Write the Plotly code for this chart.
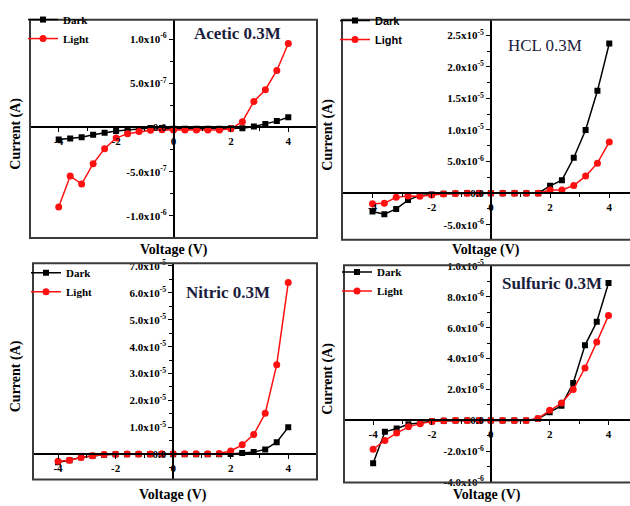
import plotly.graph_objects as go

W, H = 630, 506

voltage = [-4.0, -3.6, -3.2, -2.8, -2.4, -2.0, -1.6, -1.2, -0.8, -0.4, 0.0,
           0.4, 0.8, 1.2, 1.6, 2.0, 2.4, 2.8, 3.2, 3.6, 4.0]

acetic_dark = [-1.37e-7, -1.26e-7, -1.1e-7, -0.83e-7, -0.6e-7, -0.4e-7, -0.3e-7, -0.2e-7,
               -0.05e-7, -0.05e-7, -0.15e-7, -0.15e-7, -0.15e-7, -0.15e-7, -0.15e-7,
               -0.1e-7, -0.1e-7, 0.1e-7, 0.4e-7, 0.72e-7, 1.15e-7]
acetic_light = [-9.0e-7, -5.5e-7, -6.4e-7, -4.1e-7, -2.4e-7, -1.2e-7, -0.7e-7, -0.47e-7,
                -0.32e-7, -0.25e-7, -0.28e-7, -0.28e-7, -0.28e-7, -0.28e-7, -0.28e-7,
                -0.15e-7, 0.65e-7, 2.94e-7, 4.27e-7, 6.45e-7, 9.5e-7]

hcl_dark = [-2.9e-6, -3.35e-6, -2.5e-6, -1.1e-6, -0.36e-6, -0.2e-6, -0.1e-6, -0.05e-6,
            0.0, 0.0, 0.0, 0.0, 0.0, 0.0, 0.0, 1.15e-6, 2.06e-6, 5.6e-6, 1.0e-5, 1.62e-5, 2.37e-5]
hcl_light = [-1.7e-6, -1.6e-6, -0.67e-6, -0.46e-6, -0.5e-6, -0.3e-6, -0.15e-6, -0.05e-6,
             0.0, 0.0, 0.0, 0.0, 0.0, 0.0, 0.0, 0.5e-6, 0.5e-6, 1.2e-6, 2.7e-6, 4.75e-6, 8.1e-6]

nitric_dark = [-3.0e-6, -2.2e-6, -1.1e-6, -0.6e-6, -0.2e-6, 0.0, 0.0, 0.0, 0.0, 0.0, 0.0,
               0.0, 0.0, 0.0, 0.0, 0.1e-6, 0.5e-6, 0.85e-6, 1.8e-6, 4.5e-6, 1.0e-5]
nitric_light = [-2.6e-6, -2.2e-6, -1.2e-6, -0.6e-6, -0.1e-6, 0.0, 0.05e-6, 0.1e-6, 0.1e-6,
                0.15e-6, 0.2e-6, 0.2e-6, 0.2e-6, 0.2e-6, 0.3e-6, 1.2e-6, 3.5e-6, 7.3e-6,
                1.52e-5, 3.33e-5, 6.38e-5]

sulfuric_dark = [-2.78e-6, -0.74e-6, -0.53e-6, -0.25e-6, -0.15e-6, -0.06e-6, -0.02e-6, 0.0,
                 0.0, 0.0, 0.0, 0.0, 0.0, 0.0, 0.1e-6, 0.53e-6, 0.95e-6, 2.42e-6, 4.86e-6,
                 6.38e-6, 8.9e-6]
sulfuric_light = [-1.87e-6, -1.3e-6, -0.82e-6, -0.42e-6, -0.21e-6, -0.08e-6, -0.02e-6, 0.0,
                  0.0, 0.0, 0.0, 0.0, 0.0, 0.0, 0.13e-6, 0.65e-6, 1.12e-6, 2.0e-6, 3.39e-6,
                  5.07e-6, 6.8e-6]

x_ticks = [-4, -2, 0, 2, 4]
x_ticktext = ["-4", "-2", "0", "2", "4"]
x_minor = [-3, -1, 1, 3]

acetic_yticks = [-1e-6, -5e-7, 0, 5e-7, 1e-6]
acetic_ytext = ["-1.0x10<sup>-6</sup>", "-5.0x10<sup>-7</sup>", "0.0",
                "5.0x10<sup>-7</sup>", "1.0x10<sup>-6</sup>"]
acetic_yminor = [-7.5e-7, -2.5e-7, 2.5e-7, 7.5e-7]

hcl_yticks = [-5e-6, 0, 5e-6, 1e-5, 1.5e-5, 2e-5, 2.5e-5]
hcl_ytext = ["-5.0x10<sup>-6</sup>", "0.0", "5.0x10<sup>-6</sup>", "1.0x10<sup>-5</sup>",
             "1.5x10<sup>-5</sup>", "2.0x10<sup>-5</sup>", "2.5x10<sup>-5</sup>"]
hcl_yminor = [-2.5e-6, 2.5e-6, 7.5e-6, 1.25e-5, 1.75e-5, 2.25e-5]

nitric_yticks = [-1e-5, 0, 1e-5, 2e-5, 3e-5, 4e-5, 5e-5, 6e-5, 7e-5]
nitric_ytext = ["-1.0x10<sup>-5</sup>", "0.0", "1.0x10<sup>-5</sup>", "2.0x10<sup>-5</sup>",
                "3.0x10<sup>-5</sup>", "4.0x10<sup>-5</sup>", "5.0x10<sup>-5</sup>",
                "6.0x10<sup>-5</sup>", "7.0x10<sup>-5</sup>"]
nitric_yminor = [-5e-6, 5e-6, 1.5e-5, 2.5e-5, 3.5e-5, 4.5e-5, 5.5e-5, 6.5e-5]

sulfuric_yticks = [-4e-6, -2e-6, 0, 2e-6, 4e-6, 6e-6, 8e-6, 1e-5]
sulfuric_ytext = ["-4.0x10<sup>-6</sup>", "-2.0x10<sup>-6</sup>", "0.0", "2.0x10<sup>-6</sup>",
                  "4.0x10<sup>-6</sup>", "6.0x10<sup>-6</sup>", "8.0x10<sup>-6</sup>",
                  "1.0x10<sup>-5</sup>"]
sulfuric_yminor = [-3e-6, -1e-6, 1e-6, 3e-6, 5e-6, 7e-6, 9e-6]

titles = ["Acetic 0.3M", "HCL 0.3M", "Nitric 0.3M", "Sulfuric 0.3M"]

SERIF = "Liberation Serif"
SANS = "Liberation Sans"
TITLE_COLOR = "#1b1d3d"

# panel layout in pixels: (left, right, top, bottom), x range, y range
panels = [
    dict(px=(30, 317, 13, 237), xr=(-5.0, 5.0), yr=(-1.25e-6, 1.22e-6),
         dark=acetic_dark, light=acetic_light, yt=acetic_yticks, ytt=acetic_ytext,
         ym=acetic_yminor, title=titles[0], tpos=(237, 27), tbold=True,
         leg=(23, -2), legfont=SERIF),
    dict(px=(342, 630, 13, 239), xr=(-5.03, 4.70), yr=(-7.4e-6, 2.747e-5),
         dark=hcl_dark, light=hcl_light, yt=hcl_yticks, ytt=hcl_ytext,
         ym=hcl_yminor, title=titles[1], tpos=(545, 40), tbold=False,
         leg=(335, -1), legfont=SANS),
    dict(px=(33, 317, 263, 485), xr=(-4.87, 5.0), yr=(-0.94e-5, 7.1e-5),
         dark=nitric_dark, light=nitric_light, yt=nitric_yticks, ytt=nitric_ytext,
         ym=nitric_yminor, title=titles[2], tpos=(228, 293), tbold=True,
         leg=(26, 258), legfont=SERIF),
    dict(px=(344, 630, 265, 488), xr=(-4.99, 4.73), yr=(-4.02e-6, 1.005e-5),
         dark=sulfuric_dark, light=sulfuric_light, yt=sulfuric_yticks, ytt=sulfuric_ytext,
         ym=sulfuric_yminor, title=titles[3], tpos=(552, 284), tbold=True,
         leg=(337, 257), legfont=SERIF),
]

fig = go.Figure()
layout = dict(
    width=W, height=H, margin=dict(l=0, r=0, t=0, b=0),
    paper_bgcolor="white", plot_bgcolor="white", showlegend=True,
    shapes=[], annotations=[],
)

tickfont = dict(family=SERIF, size=11, color="black", weight="bold")

for i, p in enumerate(panels):
    n = "" if i == 0 else str(i + 1)
    xa, ya = "x" + n, "y" + n
    legname = "legend" + n
    l, r, t, b = p["px"]
    xd = [l / W, r / W]
    yd = [1 - b / H, 1 - t / H]
    x0, x1 = p["xr"]
    y0, y1 = p["yr"]
    # where the zero lines sit (paper fractions)
    ypos_axis = xd[0] + (0 - x0) / (x1 - x0) * (xd[1] - xd[0])
    xpos_axis = yd[0] + (0 - y0) / (y1 - y0) * (yd[1] - yd[0])

    fig.add_trace(go.Scatter(
        x=voltage, y=p["dark"], xaxis=xa, yaxis=ya, name="<b>Dark</b>", legend=legname,
        mode="lines+markers", line=dict(color="black", width=1.5),
        marker=dict(symbol="square", size=6, color="black")))
    fig.add_trace(go.Scatter(
        x=voltage, y=p["light"], xaxis=xa, yaxis=ya, name="<b>Light</b>", legend=legname,
        mode="lines+markers", line=dict(color="#ff1010", width=1.5),
        marker=dict(symbol="circle", size=7, color="#ff1010")))

    layout["xaxis" + n] = dict(
        domain=xd, range=[x0, x1], anchor="free", position=xpos_axis,
        showline=True, linecolor="black", linewidth=1.5, showgrid=False, zeroline=False,
        tickmode="array", tickvals=x_ticks, ticktext=x_ticktext,
        ticks="outside", ticklen=4, tickwidth=1, tickcolor="black", tickfont=tickfont,
        minor=dict(tickmode="array", tickvals=x_minor, ticks="outside", ticklen=3,
                   tickcolor="black", showgrid=False),
        fixedrange=True,
    )
    layout["yaxis" + n] = dict(
        domain=yd, range=[y0, y1], anchor="free", position=ypos_axis,
        showline=True, linecolor="black", linewidth=1.5, showgrid=False, zeroline=False,
        tickmode="array", tickvals=p["yt"], ticktext=p["ytt"],
        ticks="outside", ticklen=4, tickwidth=1, tickcolor="black", tickfont=tickfont,
        minor=dict(tickmode="array", tickvals=p["ym"], ticks="outside", ticklen=3,
                   tickcolor="black", showgrid=False),
        fixedrange=True,
    )
    # frame around the panel
    layout["shapes"].append(dict(
        type="rect", xref=xa + " domain", yref=ya + " domain",
        x0=0, x1=1 if r < W else 1.03, y0=0, y1=1,
        line=dict(color="#3a3a3a", width=2), layer="above"))

    # legend box
    lx, ly = p["leg"]
    layout[legname] = dict(
        x=lx / W, y=1 - ly / H, xanchor="left", yanchor="top",
        bgcolor="rgba(0,0,0,0)", borderwidth=0, itemwidth=30,
        font=dict(family=p["legfont"], size=11, color="black"),
        tracegroupgap=0,
    )

    # panel title
    tx, ty = p["tpos"]
    txt = "<b>%s</b>" % p["title"] if p["tbold"] else p["title"]
    layout["annotations"].append(dict(
        x=tx / W, y=1 - ty / H, xref="paper", yref="paper", text=txt, showarrow=False,
        xanchor="center", yanchor="middle",
        font=dict(family=SERIF, size=17, color=TITLE_COLOR)))

    # axis titles
    vy = 249 if i < 2 else 501
    vx = (l + min(r, 2 * (l + (0 - x0) / (x1 - x0) * (r - l)) - l)) / 2
    layout["annotations"].append(dict(
        x=vx / W, y=1 - vy / H, xref="paper", yref="paper", text="<b>Voltage (V)</b>",
        showarrow=False, xanchor="center", yanchor="middle",
        font=dict(family=SERIF, size=14, color="black")))
    cx = 16 if i % 2 == 0 else 328
    layout["annotations"].append(dict(
        x=cx / W, y=1 - ((t + b) / 2 + 5) / H, xref="paper", yref="paper",
        text="<b>Current (A)</b>", textangle=-90,
        showarrow=False, xanchor="center", yanchor="middle",
        font=dict(family=SERIF, size=14, color="black")))

fig.update_layout(**layout)
fig.write_html("out.html")
